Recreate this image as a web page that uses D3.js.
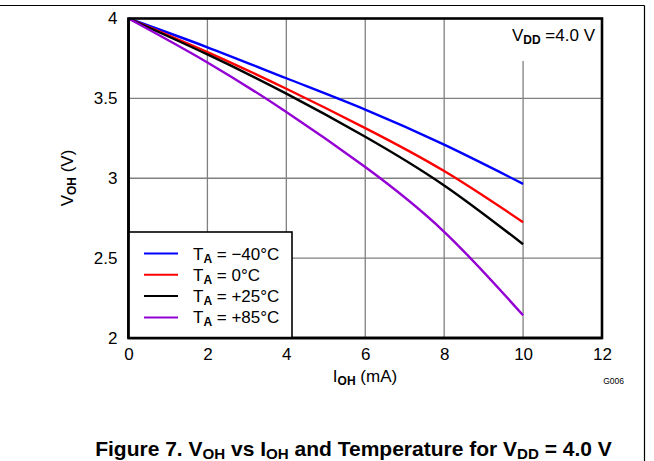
<!DOCTYPE html>
<html>
<head>
<meta charset="utf-8">
<script src="https://cdn.jsdelivr.net/npm/d3@7"></script>
<style>
  html, body { margin: 0; padding: 0; background: #fff; }
  svg { display: block; font-family: "Liberation Sans", Arial, sans-serif; }
</style>
</head>
<body>
<svg id="chart" width="654" height="461"></svg>
<script>
// ---------------- data ----------------
const currents = [0, 2, 4, 6, 8, 10];           // I_OH (mA)
const vohM40 = [4.0, 3.82, 3.626, 3.43, 3.21, 2.965];
const voh0   = [4.0, 3.79, 3.56, 3.314, 3.045, 2.725];
const voh25  = [4.0, 3.775, 3.53, 3.26, 2.955, 2.587];
const voh85  = [4.0, 3.725, 3.415, 3.07, 2.665, 2.142];
const seriesNames = ["\u221240\u00B0C", "0\u00B0C", "+25\u00B0C", "+85\u00B0C"];
const seriesColors = ["#0000ff", "#ff0000", "#000000", "#9400d3"];
const xTicks = [0, 2, 4, 6, 8, 10, 12];
const yTicks = [2, 2.5, 3, 3.5, 4];
const yTickLabels = ["2", "2.5", "3", "3.5", "4"];

const seriesValues = [vohM40, voh0, voh25, voh85];

// ---------------- layout ----------------
const svg = d3.select("#chart");
const L = 128.5, R = 602, T = 18.5, B = 338;
const x = d3.scaleLinear().domain([0, 12]).range([L, R]);
const y = d3.scaleLinear().domain([2, 4]).range([B, T]);
const FS = 17;

// page frame (top and right rules)
svg.append("line").attr("x1", 0).attr("x2", 644.5).attr("y1", 5.5).attr("y2", 5.5)
  .attr("stroke", "#000").attr("stroke-width", 1.2);
svg.append("line").attr("x1", 644.5).attr("x2", 644.5).attr("y1", 5.5).attr("y2", 461)
  .attr("stroke", "#000").attr("stroke-width", 1.2);

// grid
const grid = svg.append("g").attr("stroke", "#808080").attr("stroke-width", 1.3);
xTicks.filter(t => t > 0 && t < 12).forEach(t => {
  grid.append("line").attr("x1", x(t)).attr("x2", x(t))
    .attr("y1", B).attr("y2", t === 10 ? 61 : T);
});
yTicks.filter(t => t > 2 && t < 4).forEach(t => {
  grid.append("line").attr("x1", L).attr("x2", R).attr("y1", y(t)).attr("y2", y(t));
});

// axes labels via d3 axes
const xAxis = d3.axisBottom(x).tickValues(xTicks).tickSize(0).tickPadding(10)
  .tickFormat(d3.format("d"));
const gx = svg.append("g").attr("transform", `translate(0,${B})`).call(xAxis);
gx.select(".domain").remove();
gx.selectAll("text").attr("font-size", FS).attr("font-family", "Liberation Sans, Arial, sans-serif").attr("fill", "#000");

const yAxis = d3.axisLeft(y).tickValues(yTicks).tickSize(0).tickPadding(11)
  .tickFormat((d, i) => yTickLabels[i]);
const gy = svg.append("g").attr("transform", `translate(${L},0)`).call(yAxis);
gy.select(".domain").remove();
gy.selectAll("text").attr("font-size", FS).attr("font-family", "Liberation Sans, Arial, sans-serif").attr("fill", "#000");

// curves
const line = d3.line().x((d, i) => x(currents[i])).y(d => y(d)).curve(d3.curveNatural);
seriesValues.forEach((vals, k) => {
  svg.append("path").datum(vals).attr("d", line)
    .attr("fill", "none").attr("stroke", seriesColors[k]).attr("stroke-width", 2.4);
});

// plot border
svg.append("rect").attr("x", L).attr("y", T).attr("width", R - L).attr("height", B - T)
  .attr("fill", "none").attr("stroke", "#000").attr("stroke-width", 2.6);

// legend
const lg = svg.append("g");
lg.append("rect").attr("x", L).attr("y", 232).attr("width", 292 - L).attr("height", B - 232)
  .attr("fill", "#fff").attr("stroke", "#000").attr("stroke-width", 1.6);
seriesNames.forEach((name, k) => {
  const yy = 253.5 + k * 21.3;
  lg.append("line").attr("x1", 144).attr("x2", 178).attr("y1", yy).attr("y2", yy)
    .attr("stroke", seriesColors[k]).attr("stroke-width", 2);
  const t = lg.append("text").attr("x", 193).attr("y", yy + 6).attr("font-size", FS);
  t.append("tspan").text("T");
  t.append("tspan").attr("font-size", 12).attr("font-weight", "bold").attr("dy", 3).text("A");
  t.append("tspan").attr("dy", -3).text(" = " + name);
});

// re-draw border edge over legend
svg.append("line").attr("x1", L).attr("x2", L).attr("y1", T).attr("y2", B)
  .attr("stroke", "#000").attr("stroke-width", 2.6);
svg.append("line").attr("x1", L).attr("x2", R).attr("y1", B).attr("y2", B)
  .attr("stroke", "#000").attr("stroke-width", 2.6);

// VDD annotation
const vdd = svg.append("text").attr("x", 595).attr("y", 41).attr("text-anchor", "end").attr("font-size", FS);
vdd.append("tspan").text("V");
vdd.append("tspan").attr("font-size", 12).attr("font-weight", "bold").attr("dy", 3).text("DD");
vdd.append("tspan").attr("dy", -3).text(" =4.0 V");

// axis titles
const xt = svg.append("text").attr("x", 365).attr("y", 382).attr("text-anchor", "middle").attr("font-size", FS);
xt.append("tspan").text("I");
xt.append("tspan").attr("font-size", 12).attr("font-weight", "bold").attr("dy", 3).text("OH");
xt.append("tspan").attr("dy", -3).text(" (mA)");

const yt = svg.append("text").attr("transform", "translate(73,178) rotate(-90)")
  .attr("text-anchor", "middle").attr("font-size", FS);
yt.append("tspan").text("V");
yt.append("tspan").attr("font-size", 12).attr("font-weight", "bold").attr("dy", 3).text("OH");
yt.append("tspan").attr("dy", -3).text(" (V)");

svg.append("text").attr("x", 624).attr("y", 384).attr("text-anchor", "end")
  .attr("font-size", 8.5).text("G006");

// figure title (sized to span the same width as the reference)
const TFS = 22, SUB = 0.72;
const ft = svg.append("text").attr("x", 353.5).attr("y", 456).attr("text-anchor", "middle")
  .attr("font-size", TFS).attr("font-weight", "bold");
const parts = [["Figure 7. V", 0], ["OH", 1], [" vs I", 0], ["OH", 1],
               [" and Temperature for V", 0], ["DD", 1], [" = 4.0 V", 0]];
let prevSub = 0;
parts.forEach(([txt, sub]) => {
  const ts = ft.append("tspan").text(txt);
  if (sub) ts.attr("font-size", TFS * SUB);
  const dy = sub && !prevSub ? 3 : (!sub && prevSub ? -3 : 0);
  if (dy) ts.attr("dy", dy);
  prevSub = sub;
});
const w = ft.node().getComputedTextLength();
const target = 517;
const scaled = TFS * target / w;
ft.attr("font-size", scaled);
ft.selectAll("tspan").each(function(d, i) {
  if (parts[i][1]) d3.select(this).attr("font-size", scaled * SUB);
});
</script>
</body>
</html>
